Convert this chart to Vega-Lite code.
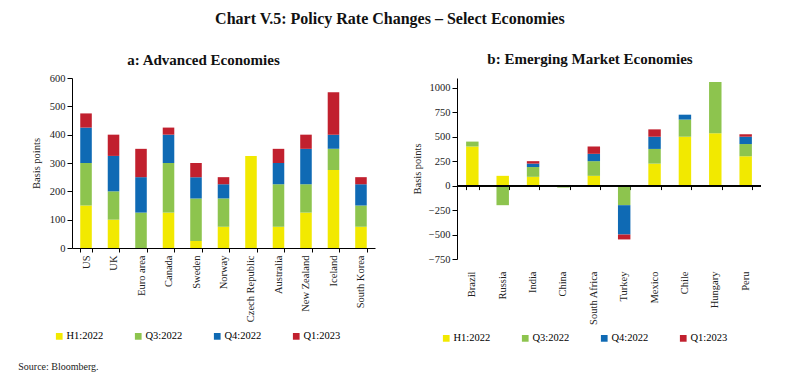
{
  "$schema": "https://vega.github.io/schema/vega-lite/v6.json",
  "background": "white",
  "padding": {"left": 18, "top": 11, "right": 10, "bottom": 5},
  "title": {"text": "Chart V.5: Policy Rate Changes – Select Economies", "fontSize": 16, "fontWeight": "bold", "anchor": "middle", "offset": 25, "color": "#111"},
  "datasets": {
    "adv": [
      {"c":"US","p":"H1:2022","s":1,"v":150},{"c":"US","p":"Q3:2022","s":2,"v":150},{"c":"US","p":"Q4:2022","s":3,"v":125},{"c":"US","p":"Q1:2023","s":4,"v":50},
      {"c":"UK","p":"H1:2022","s":1,"v":100},{"c":"UK","p":"Q3:2022","s":2,"v":100},{"c":"UK","p":"Q4:2022","s":3,"v":125},{"c":"UK","p":"Q1:2023","s":4,"v":75},
      {"c":"Euro area","p":"Q3:2022","s":2,"v":125},{"c":"Euro area","p":"Q4:2022","s":3,"v":125},{"c":"Euro area","p":"Q1:2023","s":4,"v":100},
      {"c":"Canada","p":"H1:2022","s":1,"v":125},{"c":"Canada","p":"Q3:2022","s":2,"v":175},{"c":"Canada","p":"Q4:2022","s":3,"v":100},{"c":"Canada","p":"Q1:2023","s":4,"v":25},
      {"c":"Sweden","p":"H1:2022","s":1,"v":25},{"c":"Sweden","p":"Q3:2022","s":2,"v":150},{"c":"Sweden","p":"Q4:2022","s":3,"v":75},{"c":"Sweden","p":"Q1:2023","s":4,"v":50},
      {"c":"Norway","p":"H1:2022","s":1,"v":75},{"c":"Norway","p":"Q3:2022","s":2,"v":100},{"c":"Norway","p":"Q4:2022","s":3,"v":50},{"c":"Norway","p":"Q1:2023","s":4,"v":25},
      {"c":"Czech Republic","p":"H1:2022","s":1,"v":325},
      {"c":"Australia","p":"H1:2022","s":1,"v":75},{"c":"Australia","p":"Q3:2022","s":2,"v":150},{"c":"Australia","p":"Q4:2022","s":3,"v":75},{"c":"Australia","p":"Q1:2023","s":4,"v":50},
      {"c":"New Zealand","p":"H1:2022","s":1,"v":125},{"c":"New Zealand","p":"Q3:2022","s":2,"v":100},{"c":"New Zealand","p":"Q4:2022","s":3,"v":125},{"c":"New Zealand","p":"Q1:2023","s":4,"v":50},
      {"c":"Iceland","p":"H1:2022","s":1,"v":275},{"c":"Iceland","p":"Q3:2022","s":2,"v":75},{"c":"Iceland","p":"Q4:2022","s":3,"v":50},{"c":"Iceland","p":"Q1:2023","s":4,"v":150},
      {"c":"South Korea","p":"H1:2022","s":1,"v":75},{"c":"South Korea","p":"Q3:2022","s":2,"v":75},{"c":"South Korea","p":"Q4:2022","s":3,"v":75},{"c":"South Korea","p":"Q1:2023","s":4,"v":25}
    ],
    "eme": [
      {"c":"Brazil","p":"H1:2022","s":1,"v":400},{"c":"Brazil","p":"Q3:2022","s":2,"v":50},
      {"c":"Russia","p":"H1:2022","s":1,"v":100},{"c":"Russia","p":"Q3:2022","s":2,"v":-200},
      {"c":"India","p":"H1:2022","s":1,"v":90},{"c":"India","p":"Q3:2022","s":2,"v":100},{"c":"India","p":"Q4:2022","s":3,"v":35},{"c":"India","p":"Q1:2023","s":4,"v":25},
      {"c":"China","p":"H1:2022","s":1,"v":-10},{"c":"China","p":"Q3:2022","s":2,"v":-10},
      {"c":"South Africa","p":"H1:2022","s":1,"v":100},{"c":"South Africa","p":"Q3:2022","s":2,"v":150},{"c":"South Africa","p":"Q4:2022","s":3,"v":75},{"c":"South Africa","p":"Q1:2023","s":4,"v":75},
      {"c":"Turkey","p":"Q3:2022","s":2,"v":-200},{"c":"Turkey","p":"Q4:2022","s":3,"v":-300},{"c":"Turkey","p":"Q1:2023","s":4,"v":-50},
      {"c":"Mexico","p":"H1:2022","s":1,"v":225},{"c":"Mexico","p":"Q3:2022","s":2,"v":150},{"c":"Mexico","p":"Q4:2022","s":3,"v":125},{"c":"Mexico","p":"Q1:2023","s":4,"v":75},
      {"c":"Chile","p":"H1:2022","s":1,"v":500},{"c":"Chile","p":"Q3:2022","s":2,"v":175},{"c":"Chile","p":"Q4:2022","s":3,"v":50},
      {"c":"Hungary","p":"H1:2022","s":1,"v":535},{"c":"Hungary","p":"Q3:2022","s":2,"v":525},
      {"c":"Peru","p":"H1:2022","s":1,"v":300},{"c":"Peru","p":"Q3:2022","s":2,"v":125},{"c":"Peru","p":"Q4:2022","s":3,"v":75},{"c":"Peru","p":"Q1:2023","s":4,"v":25}
    ]
  },
  "vconcat": [
    {
      "title": {"text": "Source: Bloomberg.", "orient": "bottom", "anchor": "start", "fontSize": 10, "fontWeight": "normal", "offset": 18, "dx": -13, "color": "#222"},
      "spacing": 37,
      "resolve": {"scale": {"color": "independent"}, "legend": {"color": "independent"}},
      "hconcat": [
        {
          "width": 303,
          "height": 170,
          "title": {"text": "a: Advanced Economies", "dx": -20, "offset": 5, "frame": "group"},
          "data": {"name": "adv"},
          "mark": {"type": "bar"},
          "encoding": {
            "x": {"field": "c", "type": "nominal", "sort": null, "title": null,
                  "scale": {"paddingInner": 0.58, "paddingOuter": 0.3},
                  "axis": {"labelAngle": -90, "tickBand": "extent", "tickSize": 4, "labelPadding": 3}},
            "y": {"field": "v", "type": "quantitative", "stack": "zero",
                  "scale": {"domain": [0, 600], "nice": false},
                  "axis": {"values": [0,100,200,300,400,500,600], "title": "Basis points", "grid": false, "titlePadding": 8, "labelOverlap": false}},
            "color": {"field": "p", "type": "nominal",
                      "scale": {"domain": ["H1:2022","Q3:2022","Q4:2022","Q1:2023"], "range": ["#F2E900","#8DC44E","#0F6AB4","#C1202E"]},
                      "legend": {"orient": "none", "legendX": -18, "legendY": 253, "direction": "horizontal", "columns": 4, "title": null, "symbolType": "square", "symbolSize": 45, "symbolStrokeWidth": 0, "columnPadding": 29, "padding": 0, "labelFontSize": 10.5, "labelOffset": 2}},
            "order": {"field": "s", "type": "quantitative"}
          }
        },
        {
          "width": 304,
          "height": 181,
          "title": {"text": "b: Emerging Market Economies", "dx": -19, "offset": 11, "frame": "group"},
          "data": {"name": "eme"},
          "resolve": {"axis": {"x": "independent"}},
          "layer": [
            {
              "mark": {"type": "bar"},
              "encoding": {
                "x": {"field": "c", "type": "nominal", "sort": null, "title": null,
                      "scale": {"paddingInner": 0.59, "paddingOuter": 0.3},
                      "axis": {"labelAngle": -90, "domain": false, "ticks": false, "labelPadding": 12}},
                "y": {"field": "v", "type": "quantitative", "stack": "zero",
                      "scale": {"domain": [-750, 1100], "nice": false},
                      "axis": {"values": [-750,-500,-250,0,250,500,750,1000], "format": "d", "title": "Basis points", "grid": false, "titlePadding": 6, "labelOverlap": false}},
                "color": {"field": "p", "type": "nominal",
                          "scale": {"domain": ["H1:2022","Q3:2022","Q4:2022","Q1:2023"], "range": ["#F2E900","#8DC44E","#0F6AB4","#C1202E"]},
                          "legend": {"orient": "none", "legendX": -16, "legendY": 255, "direction": "horizontal", "columns": 4, "title": null, "symbolType": "square", "symbolSize": 45, "symbolStrokeWidth": 0, "columnPadding": 29, "padding": 0, "labelFontSize": 10.5, "labelOffset": 2}},
                "order": {"field": "s", "type": "quantitative"}
              }
            },
            {
              "mark": {"type": "rule", "color": "#000", "strokeWidth": 1},
              "encoding": {"y": {"datum": 0, "type": "quantitative",
                  "scale": {"domain": [-750, 1100], "nice": false},
                  "axis": {"values": [-750,-500,-250,0,250,500,750,1000], "format": "d", "title": "Basis points", "grid": false, "titlePadding": 6, "labelOverlap": false}}}
            },
            {
              "mark": {"type": "point", "opacity": 0},
              "encoding": {
                "x": {"field": "c", "type": "nominal", "sort": null, "title": null,
                      "axis": {"orient": "bottom", "offset": -73.4, "labels": false, "domain": false, "tickBand": "extent", "tickSize": 4, "title": null}},
                "y": {"datum": 0, "type": "quantitative",
                  "scale": {"domain": [-750, 1100], "nice": false},
                  "axis": {"values": [-750,-500,-250,0,250,500,750,1000], "format": "d", "title": "Basis points", "grid": false, "titlePadding": 6, "labelOverlap": false}}
              }
            }
          ]
        }
      ]
    }
  ],
  "config": {
    "font": "Liberation Serif",
    "view": {"stroke": null},
    "title": {"fontSize": 15, "fontWeight": "bold", "color": "#111"},
    "axis": {"labelFontSize": 10.5, "labelColor": "#222", "titleFontSize": 10.5, "titleFontWeight": "normal", "titleColor": "#222", "domainColor": "#000", "tickColor": "#000", "labelOverlap": false}
  }
}
